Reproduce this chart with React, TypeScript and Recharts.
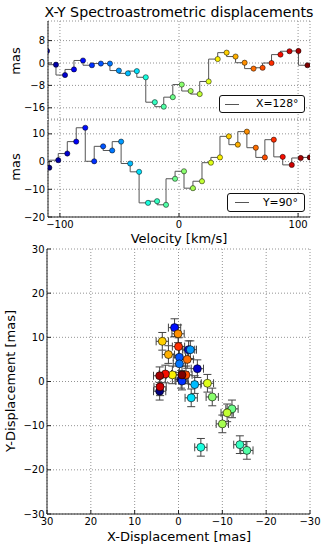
import React from 'react';
import {
  LineChart, Line, XAxis, YAxis, CartesianGrid, Legend,
  ScatterChart, Scatter, ErrorBar,
} from 'recharts';

// ---------- data ----------
const velocityX = [-110.8, -103.3, -95.7, -88.2, -80.6, -73.1, -65.6, -58.0, -50.5, -42.9, -35.4, -27.9, -20.3, -12.8, -5.2, 2.3, 9.8, 17.4, 24.9, 32.5, 40.0, 47.5, 55.1, 62.6, 70.2, 77.7, 85.2, 92.8, 100.3, 107.9];
const velocityY = [-108.9, -101.4, -93.8, -86.3, -78.7, -71.2, -63.7, -56.1, -48.6, -41.0, -33.5, -26.0, -18.4, -10.9, -3.3, 4.2, 11.7, 19.3, 26.8, 34.4, 41.9, 49.4, 57.0, 64.5, 72.1, 79.6, 87.1, 94.7, 102.2, 109.8];
const xDisp = [4.3, -0.6, -4.3, -2.3, 0.9, -0.8, -0.2, -0.2, -2.7, -3.7, -2.9, -5.1, -14.0, -15.6, -12.2, -7.7, -10.0, -11.1, -6.6, 1.4, 3.7, 2.3, 0.1, -2.0, -1.7, 0.0, 3.0, 4.2, 4.3, -0.8];
const yDisp = [-2.2, 0.5, 2.9, 7.2, 12.2, 0.1, 5.5, 4.0, 7.2, -0.7, -3.7, -14.9, -14.3, -15.6, -6.2, -3.5, -9.6, -7.1, -0.4, 1.5, 9.1, 6.1, 10.8, 5.0, 1.5, 7.9, 1.7, -1.2, 1.3, 1.5];
const xErr = [1.4, 1.4, 1.4, 1.4, 1.4, 1.4, 1.4, 1.4, 1.4, 1.4, 1.4, 1.4, 1.4, 1.4, 1.4, 1.4, 1.4, 1.4, 1.4, 1.4, 1.4, 1.4, 1.4, 1.4, 1.4, 1.4, 1.4, 1.4, 1.4, 1.4];
const yErr = [2.0, 2.0, 2.0, 2.0, 2.0, 2.0, 2.0, 2.0, 2.0, 2.0, 2.0, 2.0, 2.0, 2.0, 2.0, 2.0, 2.0, 2.0, 2.0, 2.0, 2.0, 2.0, 2.0, 2.0, 2.0, 2.0, 2.0, 2.0, 2.0, 2.0];

const velocityTicks = [-100, 0, 100];
const panelXTicks = [-16, -8, 0, 8];
const panelYTicks = [-20, -10, 0, 10];
const dispTicks = [30, 20, 10, 0, -10, -20, -30];

const titleText = 'X-Y Spectroastrometric displacements';
const legendXText = 'X=128°';
const legendYText = 'Y=90°';
const panelLabel = 'mas';
const velocityLabel = 'Velocity [km/s]';
const xDispLabel = 'X-Displacement [mas]';
const yDispLabel = 'Y-Displacement [mas]';

// ---------- styling helpers ----------
const FONT = 'DejaVu Sans';
const JET: Record<string, number[][]> = {
  r: [[0, 0], [0.35, 0], [0.66, 1], [0.89, 1], [1, 0.5]],
  g: [[0, 0], [0.125, 0], [0.375, 1], [0.64, 1], [0.91, 0], [1, 0]],
  b: [[0, 0.5], [0.11, 1], [0.34, 1], [0.65, 0], [1, 0]],
};
function interp(pts: number[][], t: number) {
  for (let k = 1; k < pts.length; k++) {
    if (t <= pts[k][0]) {
      const [x0, y0] = pts[k - 1];
      const [x1, y1] = pts[k];
      return y0 + ((y1 - y0) * (t - x0)) / (x1 - x0);
    }
  }
  return pts[pts.length - 1][1];
}
function jet(t: number) {
  const c = (v: number) => Math.round(Math.max(0, Math.min(1, v)) * 255);
  return `rgb(${c(interp(JET.r, t))},${c(interp(JET.g, t))},${c(interp(JET.b, t))})`;
}
const colors = xDisp.map((_, i) => jet(i / (xDisp.length - 1)));

const xData = velocityX.map((v, i) => ({ v, val: xDisp[i] }));
const yData = velocityY.map((v, i) => ({ v, val: yDisp[i] }));
const scatterData = xDisp.map((x, i) => ({ i, x, y: yDisp[i], ex: xErr[i], ey: yErr[i] }));

const fmt = (t: number) => String(t).replace('-', '\u2212');
const blank = () => '';
const tickStyle = { fontSize: 10, fill: '#000', fontFamily: FONT };
const AXIS = '#222';
const gridProps = { stroke: '#777', strokeDasharray: '1 2', strokeWidth: 0.8 };

const makeDot = (r: number) => (props: any) => {
  const { cx, cy, index } = props;
  if (cx == null || cy == null) return <g key={`e${index}`} />;
  return (
    <circle key={`d${index}`} cx={cx} cy={cy} r={r} fill={colors[index]} stroke="#000" strokeWidth={0.5} />
  );
};

const textAt = (x: number, y: number, text: string, rotate = false) => () => (
  <text
    x={x}
    y={y}
    transform={rotate ? `rotate(-90 ${x} ${y})` : undefined}
    textAnchor="middle"
    fontSize={13}
    fontFamily={FONT}
    fill="#000"
  >
    {text}
  </text>
);

const LegendBox = ({ label, lineLeft, gap }: { label: string; lineLeft: number; gap: number }) => (
  <div
    style={{
      boxSizing: 'border-box', width: '100%', height: '100%', border: '1px solid #111',
      borderRadius: 3, background: '#fff', display: 'flex', alignItems: 'center',
      fontFamily: FONT, fontSize: 10.8, color: '#000',
    }}
  >
    <span style={{ display: 'inline-block', width: 14, borderTop: '1.2px solid #555', marginLeft: lineLeft, marginRight: gap }} />
    <span style={{ lineHeight: '12px' }}>{label}</span>
  </div>
);

const mirroredAxes = (xDomain: number[], xTicks: number[], yDomain: number[], yTicks: number[], reversed = false) => [
  <XAxis key="xt" xAxisId="top" orientation="top" type="number" domain={xDomain} allowDataOverflow reversed={reversed}
    ticks={xTicks} interval={0} tickFormatter={blank} height={0} tickSize={-4} axisLine={{ stroke: AXIS }} tickLine={{ stroke: AXIS }} />,
  <YAxis key="yr" yAxisId="right" orientation="right" type="number" domain={yDomain} allowDataOverflow
    ticks={yTicks} interval={0} tickFormatter={blank} width={0} tickSize={-4} axisLine={{ stroke: AXIS }} tickLine={{ stroke: AXIS }} />,
];

export default function App() {
  return (
    <div style={{ position: 'absolute', left: 0, top: 0, width: 327, height: 550, background: '#fff', fontFamily: FONT }}>
      <div
        style={{
          position: 'absolute', left: 0, top: 3.5, width: 358, textAlign: 'center',
          fontSize: 14.2, lineHeight: '16px', color: '#000', whiteSpace: 'nowrap',
        }}
      >
        {titleText}
      </div>

      {/* top panel: X displacement */}
      <div style={{ position: 'absolute', left: 0, top: 0 }}>
        <LineChart width={327} height={550} data={xData} margin={{ top: 21, right: 17, bottom: 431, left: 8 }}>
          <CartesianGrid {...gridProps} />
          <XAxis type="number" dataKey="v" domain={[-110, 110]} allowDataOverflow ticks={velocityTicks} interval={0}
            tickFormatter={blank} height={0} tickSize={-4} axisLine={{ stroke: AXIS }} tickLine={{ stroke: AXIS }} />
          <YAxis type="number" domain={[-20, 15]} allowDataOverflow ticks={panelXTicks} interval={0} tickFormatter={fmt}
            width={40} tickSize={-4} tickMargin={7} tick={tickStyle} axisLine={{ stroke: AXIS }} tickLine={{ stroke: AXIS }}
            label={{ content: textAt(20, 61, panelLabel, true) }} />
          {mirroredAxes([-110, 110], velocityTicks, [-20, 15], panelXTicks)}
          <Line type="stepBefore" dataKey="val" stroke="#555" strokeWidth={1} dot={makeDot(2.6)} activeDot={false}
            isAnimationActive={false} />
          <Legend verticalAlign="middle" align="center" layout="horizontal"
            wrapperStyle={{ position: 'absolute', left: 219, top: 95, width: 86, height: 18 }}
            content={() => <LegendBox label={legendXText} lineLeft={5} gap={17} />} />
        </LineChart>
      </div>

      {/* bottom panel: Y displacement */}
      <div style={{ position: 'absolute', left: 0, top: 0 }}>
        <LineChart width={327} height={550} data={yData} margin={{ top: 120, right: 17, bottom: 313, left: 8 }}>
          <CartesianGrid {...gridProps} />
          <XAxis type="number" dataKey="v" domain={[-110, 110]} allowDataOverflow ticks={velocityTicks} interval={0}
            tickFormatter={fmt} height={20} tickSize={-4} tickMargin={8} tick={tickStyle}
            axisLine={{ stroke: AXIS }} tickLine={{ stroke: AXIS }}
            label={{ content: textAt(179, 243, velocityLabel) }} />
          <YAxis type="number" domain={[-20, 15]} allowDataOverflow ticks={panelYTicks} interval={0} tickFormatter={fmt}
            width={40} tickSize={-4} tickMargin={7} tick={tickStyle} axisLine={{ stroke: AXIS }} tickLine={{ stroke: AXIS }}
            label={{ content: textAt(20, 167, panelLabel, true) }} />
          {mirroredAxes([-110, 110], velocityTicks, [-20, 15], panelYTicks)}
          <Line type="stepBefore" dataKey="val" stroke="#555" strokeWidth={1} dot={makeDot(2.6)} activeDot={false}
            isAnimationActive={false} />
          <Legend verticalAlign="middle" align="center" layout="horizontal"
            wrapperStyle={{ position: 'absolute', left: 227, top: 193, width: 78, height: 19 }}
            content={() => <LegendBox label={legendYText} lineLeft={7} gap={14} />} />
        </LineChart>
      </div>

      {/* scatter: X vs Y displacement */}
      <div style={{ position: 'absolute', left: 0, top: 0 }}>
        <ScatterChart width={327} height={550} margin={{ top: 249, right: 17, bottom: 16, left: 7 }}>
          <CartesianGrid {...gridProps} />
          <XAxis type="number" dataKey="x" domain={[-30, 30]} reversed allowDataOverflow ticks={dispTicks} interval={0}
            tickFormatter={fmt} height={20} tickSize={-4} tickMargin={8} tick={tickStyle}
            axisLine={{ stroke: AXIS }} tickLine={{ stroke: AXIS }}
            label={{ content: textAt(179, 540.5, xDispLabel) }} />
          <YAxis type="number" dataKey="y" domain={[-30, 30]} allowDataOverflow ticks={dispTicks} interval={0}
            tickFormatter={fmt} width={40} tickSize={-4} tickMargin={6.5} tick={tickStyle}
            axisLine={{ stroke: AXIS }} tickLine={{ stroke: AXIS }}
            label={{ content: textAt(15, 381, yDispLabel, true) }} />
          {mirroredAxes([-30, 30], dispTicks, [-30, 30], dispTicks, true)}
          <Scatter data={scatterData} isAnimationActive={false}
            shape={(p: any) => (
              <circle cx={p.cx} cy={p.cy} r={4} fill={colors[p.payload?.i ?? 0]} stroke="#000" strokeWidth={0.6} />
            )}>
            <ErrorBar dataKey="ex" direction="x" width={4} stroke="#444" strokeWidth={1} isAnimationActive={false} />
            <ErrorBar dataKey="ey" direction="y" width={4} stroke="#444" strokeWidth={1} isAnimationActive={false} />
          </Scatter>
        </ScatterChart>
      </div>
    </div>
  );
}
